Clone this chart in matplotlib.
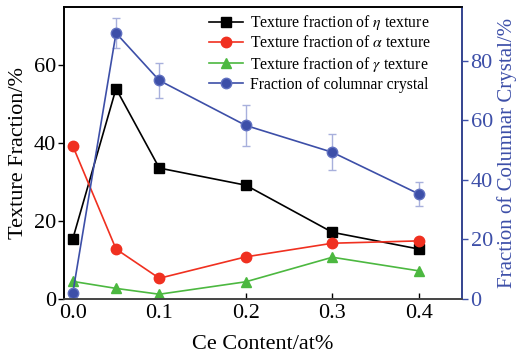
import matplotlib
matplotlib.use("Agg")
import matplotlib.pyplot as plt

plt.rcParams["font.family"] = ["Liberation Serif", "DejaVu Serif"]
plt.rcParams["mathtext.fontset"] = "stix"

ce = [0.0, 0.05, 0.1, 0.2, 0.3, 0.4]
eta = [15.4, 54.0, 33.6, 29.2, 17.1, 12.8]
alpha = [39.3, 12.8, 5.3, 10.8, 14.3, 14.9]
gamma = [4.5, 2.7, 1.2, 4.4, 10.7, 7.2]
columnar = [1.9, 89.2, 73.3, 58.2, 49.2, 35.2]
columnar_err = [0, 5, 6, 7, 6, 4]

blue = "#3d4fa8"

fig, ax = plt.subplots(figsize=(5.17, 3.61), dpi=100)
ax2 = ax.twinx()

l1, = ax.plot(ce, eta, color="black", marker="s", ms=7.5, lw=1.2,
              label=r"Texture fraction of $\eta$ texture")
l2, = ax.plot(ce, alpha, color="#f03020", marker="o", ms=7.5, lw=1.2,
              label=r"Texture fraction of $\alpha$ texture")
l3, = ax.plot(ce, gamma, color="#4cb840", marker="^", ms=7.5, lw=1.2,
              label=r"Texture fraction of $\gamma$ texture")
ax2.errorbar(ce, columnar, yerr=columnar_err, fmt="none", ecolor="#a8b0dc",
             elinewidth=1, capsize=3, capthick=1)
l4, = ax2.plot(ce, columnar, color=blue, marker="o", ms=7.5, lw=1.2,
               mfc=blue, mec="#6070c0", label="Fraction of columnar crystal")

ax.set_xlim(-0.01, 0.45)
ax.set_ylim(0, 75)
ax2.set_ylim(0, 98)
ax.set_xticks([0.0, 0.1, 0.2, 0.3, 0.4])
ax.set_xticklabels(["0.0", "0.1", "0.2", "0.3", "0.4"])
ax.set_yticks([0, 20, 40, 60])
ax2.set_yticks([0, 20, 40, 60, 80])

ax.tick_params(axis="x", direction="in", labelsize=16, length=4, width=1, pad=4)
ax.tick_params(axis="y", direction="out", labelsize=16, length=4, width=1, pad=2)
ax2.tick_params(axis="y", direction="out", labelsize=16, length=4, width=1,
                colors=blue, pad=2)

ax.set_xlabel("Ce Content/at%", fontsize=16, labelpad=8)
ax.set_ylabel("Texture Fraction/%", fontsize=16, labelpad=4)
ax2.set_ylabel("Fraction of Columnar Crystal/%", fontsize=15, color=blue,
               labelpad=3)

for a in (ax, ax2):
    for s in a.spines.values():
        s.set_linewidth(1.2)
ax.spines["bottom"].set_color("#444444")
ax2.spines["bottom"].set_color("#444444")
ax2.spines["right"].set_color(blue)

ax.legend(handles=[l1, l2, l3, l4], loc="upper left",
          bbox_to_anchor=(0.34, 1.01), fontsize=11.3,
          frameon=False, handlelength=2.2, borderaxespad=0.2,
          labelspacing=0.2, handletextpad=0.4)

fig.subplots_adjust(left=0.124, right=0.894, top=0.981, bottom=0.172)
fig.savefig("out.png", dpi=100)
